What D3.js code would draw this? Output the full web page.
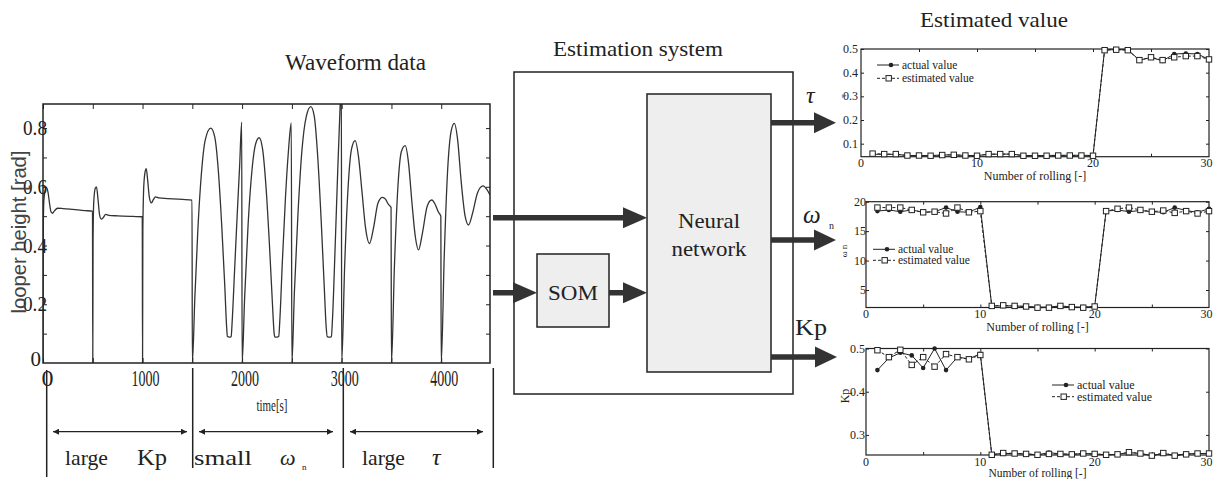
<!DOCTYPE html>
<html><head><meta charset="utf-8">
<script src="https://cdn.jsdelivr.net/npm/d3@7"></script>
<style>
body{margin:0;background:#fff}
svg{display:block}
text{font-family:"Liberation Serif","Times New Roman",serif;fill:#222}
</style>
</head><body>
<svg id="c" width="1213" height="479"></svg>
<script>
// ---------------- DATA ----------------
// waveform: [time s, looper height rad]
const waveform = [
 [0,0],[2,0.42],[8,0.55],[20,0.585],[35,0.597],[50,0.582],[65,0.545],[80,0.515],[95,0.51],[115,0.518],[145,0.527],[200,0.526],[300,0.523],[420,0.519],[497,0.517],
 [500,0],[503,0.42],[510,0.55],[525,0.595],[537,0.6],[552,0.56],[568,0.505],[585,0.49],[605,0.495],[630,0.506],[660,0.503],[750,0.501],[900,0.499],[997,0.498],
 [1000,0],[1003,0.45],[1012,0.6],[1025,0.65],[1037,0.662],[1052,0.62],[1068,0.565],[1088,0.545],[1108,0.556],[1130,0.566],[1165,0.562],[1250,0.56],[1400,0.557],[1497,0.555],
 [1500,0],[1525,0.22],[1555,0.45],[1590,0.64],[1630,0.76],[1685,0.8],[1725,0.77],[1760,0.66],[1795,0.47],[1825,0.27],[1845,0.12],[1852,0.09],[1870,0.088],[1890,0.09],[1900,0.14],[1925,0.32],[1950,0.5],[1975,0.67],[1996,0.82],
 [2000,0],[2025,0.22],[2060,0.47],[2100,0.66],[2135,0.745],[2171,0.767],[2205,0.73],[2240,0.6],[2275,0.4],[2305,0.2],[2322,0.1],[2330,0.088],[2350,0.088],[2368,0.09],[2378,0.14],[2405,0.35],[2435,0.56],[2465,0.72],[2494,0.818],
 [2500,0],[2525,0.24],[2560,0.5],[2600,0.72],[2645,0.84],[2690,0.873],[2725,0.84],[2760,0.7],[2795,0.48],[2825,0.26],[2845,0.12],[2855,0.09],[2877,0.088],[2897,0.09],[2908,0.15],[2935,0.4],[2960,0.65],[2985,0.88],[2997,0.98],
 [3000,0],[3030,0.33],[3065,0.6],[3100,0.73],[3136,0.757],[3170,0.7],[3205,0.58],[3240,0.46],[3279,0.407],[3320,0.46],[3365,0.545],[3410,0.564],[3440,0.558],[3470,0.54],[3496,0.53],
 [3500,0],[3530,0.33],[3565,0.6],[3600,0.72],[3638,0.74],[3672,0.68],[3705,0.55],[3740,0.43],[3772,0.385],[3810,0.44],[3860,0.535],[3905,0.555],[3940,0.54],[3970,0.515],[3996,0.5],
 [4000,0],[4030,0.36],[4065,0.66],[4100,0.79],[4131,0.816],[4165,0.76],[4200,0.62],[4240,0.5],[4274,0.47],[4315,0.51],[4365,0.58],[4420,0.603],[4460,0.59],[4490,0.572]
];
const waveXTicks = [0,500,1000,1500,2000,2500,3000,3500,4000];
const waveXLabels = [0,1000,2000,3000,4000];
const waveYTicks = [0.1,0.2,0.3,0.4,0.5,0.6,0.7,0.8];
const waveYLabels = [0,0.2,0.4,0.6,0.8];

const rolling = [1,2,3,4,5,6,7,8,9,10,11,12,13,14,15,16,17,18,19,20,21,22,23,24,25,26,27,28,29,30];
const tauActual = [0.055,0.055,0.055,0.05,0.05,0.05,0.052,0.053,0.05,0.05,0.055,0.056,0.056,0.05,0.05,0.05,0.051,0.051,0.051,0.05,
                   0.497,0.497,0.497,0.453,0.464,0.45,0.479,0.481,0.479,0.456];
const tauEstimated = [0.058,0.056,0.056,0.05,0.05,0.049,0.052,0.053,0.05,0.049,0.056,0.056,0.056,0.049,0.049,0.049,0.05,0.05,0.05,0.049,
                   0.495,0.497,0.495,0.453,0.465,0.453,0.465,0.47,0.47,0.456];
const omegaActual = [18.4,18.6,18.3,18.6,18.2,18.3,19.0,18.3,18.2,19.1, 2.3,2.3,2.3,2.2,2.1,2.1,2.3,2.1,2.1,2.2,
                   18.4,18.6,18.3,18.5,18.3,18.2,19.0,18.5,18.2,18.8];
const omegaEstimated = [19.0,19.0,19.0,18.6,18.2,18.3,18.0,19.0,18.2,18.4, 2.3,2.4,2.3,2.2,2.0,2.0,2.3,2.1,2.0,2.2,
                   18.4,18.8,19.0,18.6,18.3,18.5,18.1,18.4,18.0,18.4];
const kpActual = [0.45,0.478,0.49,0.484,0.455,0.5,0.45,0.48,0.476,0.488, 0.255,0.257,0.257,0.256,0.254,0.259,0.256,0.255,0.257,0.256,
                  0.254,0.255,0.259,0.257,0.252,0.257,0.253,0.256,0.257,0.257];
const kpEstimated = [0.496,0.48,0.497,0.462,0.48,0.458,0.487,0.48,0.475,0.485, 0.254,0.258,0.257,0.256,0.254,0.256,0.256,0.255,0.257,0.256,
                  0.254,0.255,0.26,0.257,0.252,0.258,0.252,0.255,0.257,0.257];
const rollTicks = [5,10,15,20,25];
const rollLabels = [0,10,20,30];
const tauYTicks = [0.1,0.2,0.3,0.4,0.5];
const omegaYTicks = [5,10,15,20];
const kpYTicks = [0.3,0.4,0.5];
const legendLabels = ["actual value","estimated value"];

// ---------------- DRAW ----------------
const svg = d3.select("#c");
const ink = "#222";
const defs = svg.append("defs");
defs.append("marker").attr("id","ah").attr("viewBox","0 0 10 10").attr("refX",10).attr("refY",5)
  .attr("markerUnits","userSpaceOnUse").attr("markerWidth",9).attr("markerHeight",6).attr("orient","auto-start-reverse")
  .append("path").attr("d","M0,0L10,5L0,10z").attr("fill",ink);

function txt(x,y,s,o={}){
  const t = svg.append("text").attr("x",x).attr("y",y).text(s)
    .attr("font-size",o.size||16).attr("text-anchor",o.anchor||"start");
  if(o.len){t.attr("textLength",o.len).attr("lengthAdjust","spacingAndGlyphs");}
  if(o.italic) t.attr("font-style","italic");
  if(o.family) t.style("font-family",o.family);
  if(o.fill) t.style("fill",o.fill);
  if(o.rotate) t.attr("transform",`rotate(${o.rotate},${x},${y})`);
  return t;
}
function cleanAxis(g){g.select(".domain").remove(); g.selectAll("line").attr("stroke",ink).attr("stroke-width",1);}

// ---- Waveform chart
const wx = d3.scaleLinear().domain([0,4490]).range([43,490]);
const wy = d3.scaleLinear().domain([0,0.882]).range([363,104]);
defs.append("clipPath").attr("id","wclip").append("rect").attr("x",43).attr("y",104).attr("width",447).attr("height",259);
svg.append("path").datum(waveform).attr("clip-path","url(#wclip)").attr("fill","none")
  .attr("stroke","#333").attr("stroke-width",1.3)
  .attr("d",d3.line().x(d=>wx(d[0])).y(d=>wy(d[1])).curve(d3.curveMonotoneX));
svg.append("g").attr("transform","translate(0,363)").call(d3.axisBottom(wx).tickValues(waveXTicks).tickSize(-5).tickFormat("")).call(cleanAxis);
svg.append("g").attr("transform","translate(0,104)").call(d3.axisTop(wx).tickValues(waveXTicks).tickSize(-5).tickFormat("")).call(cleanAxis);
svg.append("g").attr("transform","translate(43,0)").call(d3.axisLeft(wy).tickValues(waveYTicks).tickSize(-4).tickFormat("")).call(cleanAxis);
svg.append("g").attr("transform","translate(490,0)").call(d3.axisRight(wy).tickValues(waveYTicks).tickSize(-4).tickFormat("")).call(cleanAxis);
svg.append("rect").attr("x",43).attr("y",104).attr("width",447).attr("height",259)
  .attr("fill","none").attr("stroke",ink).attr("stroke-width",1.5);
waveYLabels.forEach(v=>{
  const s = v===0?"0":d3.format(".1f")(v);
  txt(v===0?41:47, v===0?wy(v)+3:wy(v)+7, s, {size:21, anchor:"end", len: v===0?null:24});
});
waveXLabels.forEach(v=>{
  txt(v===0?47.5:wx(v)+3, 386, String(v), {size:24, anchor:"middle", len: v===0?null:28});
});
txt(272,411,"time[s]",{size:17,anchor:"middle",len:31});
txt(26,232,"looper height [rad]",{size:20,anchor:"middle",rotate:-90,family:"Liberation Sans",fill:"#444",len:163});
txt(285,70,"Waveform data",{size:23,len:141});

// separators & range arrows
[[46.7,370,477],[192.7,368,468],[343.3,368,468],[493.3,368,468]].forEach(d=>{
  svg.append("line").attr("x1",d[0]).attr("x2",d[0]).attr("y1",d[1]).attr("y2",d[2]).attr("stroke",ink).attr("stroke-width",1.5);
});
[[53,187],[199,333],[350,483]].forEach(d=>{
  svg.append("line").attr("x1",d[0]).attr("x2",d[1]).attr("y1",431.7).attr("y2",431.7).attr("stroke",ink).attr("stroke-width",1.3)
   .attr("marker-start","url(#ah)").attr("marker-end","url(#ah)");
});
txt(65,465,"large",{size:22,len:43});
txt(137,465,"Kp",{size:24,len:30});
txt(194,465,"small",{size:22,len:58});
txt(280,465,"ω",{size:22,italic:true});
txt(302,470,"n",{size:9});
txt(362,465,"large",{size:22,len:43});
txt(432,465,"τ",{size:24,italic:true});

// ---- Estimation system
txt(553,56,"Estimation system",{size:22,len:170});
svg.append("rect").attr("x",514).attr("y",72).attr("width",279).attr("height",322).attr("fill","none").attr("stroke",ink).attr("stroke-width",1.5);
svg.append("rect").attr("x",647).attr("y",94).attr("width",124).attr("height",278).attr("fill","#eeeeee").attr("stroke",ink).attr("stroke-width",1.5);
svg.append("rect").attr("x",537).attr("y",254).attr("width",72).attr("height",73).attr("fill","#eeeeee").attr("stroke",ink).attr("stroke-width",1.5);
txt(709,228,"Neural",{size:22,anchor:"middle",len:62});
txt(709,256,"network",{size:22,anchor:"middle",len:75});
txt(573,300,"SOM",{size:21,anchor:"middle",len:50});

function bigArrow(x0,x1,y,hl,hh,sh){
  const xh=x1-hl;
  svg.append("path").attr("d",`M${x0},${y-sh}L${xh},${y-sh}L${xh},${y-hh}L${x1},${y}L${xh},${y+hh}L${xh},${y+sh}L${x0},${y+sh}Z`)
   .attr("fill","#333");
}
bigArrow(493,647,217.7,24,10.5,2.8);
bigArrow(493,537,292.7,24,10.5,2.8);
bigArrow(609,647,292.7,24,10.5,2.8);
bigArrow(771,836,122.7,22,10.5,2.8);
bigArrow(771,836,240,22,10.5,2.8);
bigArrow(771,837,357,22,10.5,2.8);
txt(806,103,"τ",{size:24,italic:true});
txt(803,223,"ω",{size:25,italic:true});
txt(829,229,"n",{size:10});
txt(795,335,"Kp",{size:23,len:32});

// ---- Estimated value charts
txt(920,27,"Estimated value",{size:21,len:148});

function smallChart(o){
  const x = d3.scaleLinear().domain([0,30]).range([o.l,o.r]);
  const y = d3.scaleLinear().domain(o.yd).range([o.b,o.t]);
  svg.append("g").attr("transform",`translate(0,${o.b})`).call(d3.axisBottom(x).tickValues(rollTicks).tickSize(-3).tickFormat("")).call(cleanAxis);
  svg.append("g").attr("transform",`translate(0,${o.t})`).call(d3.axisTop(x).tickValues(rollTicks).tickSize(-3).tickFormat("")).call(cleanAxis);
  svg.append("g").attr("transform",`translate(${o.l},0)`).call(d3.axisLeft(y).tickValues(o.yt).tickSize(-3).tickFormat("")).call(cleanAxis);
  svg.append("g").attr("transform",`translate(${o.r},0)`).call(d3.axisRight(y).tickValues(o.yt).tickSize(-3).tickFormat("")).call(cleanAxis);
  svg.append("rect").attr("x",o.l).attr("y",o.t).attr("width",o.r-o.l).attr("height",o.b-o.t)
    .attr("fill","none").attr("stroke",ink).attr("stroke-width",1.2);
  const line = d3.line().x((d,i)=>x(rolling[i])).y(d=>y(d));
  svg.append("path").datum(o.act).attr("fill","none").attr("stroke",ink).attr("stroke-width",1).attr("d",line);
  svg.append("path").datum(o.est).attr("fill","none").attr("stroke",ink).attr("stroke-width",1).attr("stroke-dasharray","3,2").attr("d",line);
  svg.append("g").selectAll("circle").data(o.act).join("circle")
    .attr("cx",(d,i)=>x(rolling[i])).attr("cy",d=>y(d)).attr("r",2.3).attr("fill",ink);
  svg.append("g").selectAll("rect").data(o.est).join("rect")
    .attr("x",(d,i)=>x(rolling[i])-2.7).attr("y",d=>y(d)-2.7).attr("width",5.4).attr("height",5.4)
    .attr("fill","#fff").attr("stroke",ink).attr("stroke-width",1);
  rollLabels.forEach(v=>{
    if(v===30) txt(1212.5,o.b+10.5,String(v),{size:12,anchor:"end"});
    else txt(x(v),o.b+10.5,String(v),{size:12,anchor:"middle"});
  });
  o.yt.forEach(v=>txt(o.l-o.yp,y(v)+4,o.fmt(v),{size:12,anchor:"end"}));
  txt((o.l+o.r)/2,Math.min(o.b+23,476.5),"Number of rolling [-]",{size:o.xtsize||12,anchor:"middle"});
  txt(o.ylx,o.yly,o.ylabel,{size:o.ylsize,anchor:"middle",rotate:-90});
  // legend
  const L=o.leg;
  svg.append("line").attr("x1",L.x).attr("x2",L.x+22).attr("y1",L.y).attr("y2",L.y).attr("stroke",ink).attr("stroke-width",1);
  svg.append("circle").attr("cx",L.x+14).attr("cy",L.y).attr("r",2.3).attr("fill",ink);
  svg.append("line").attr("x1",L.x).attr("x2",L.x+22).attr("y1",L.y+L.dy).attr("y2",L.y+L.dy).attr("stroke",ink).attr("stroke-dasharray","3,2");
  svg.append("rect").attr("x",L.x+9).attr("y",L.y+L.dy-2.7).attr("width",5.4).attr("height",5.4).attr("fill","#fff").attr("stroke",ink);
  txt(L.x+25,L.y+4,legendLabels[0],{size:L.size});
  txt(L.x+25,L.y+L.dy+4,legendLabels[1],{size:L.size});
}
smallChart({l:861,r:1209,t:49,b:156.7,yd:[0.045,0.5],yt:tauYTicks,yp:3,fmt:d3.format(".1f"),
  act:tauActual,est:tauEstimated,ylabel:"τ",ylx:846,yly:96,ylsize:9,
  leg:{x:877,y:65,dy:13.3,size:11.5}});
smallChart({l:866,r:1209,t:201.7,b:307.5,yd:[2.03,20],yt:omegaYTicks,yp:0,fmt:d3.format("d"),
  act:omegaActual,est:omegaEstimated,ylabel:"ω n",ylx:847,yly:251,ylsize:9,
  leg:{x:873,y:249.3,dy:11,size:11.5}});
smallChart({l:866,r:1209,t:348.5,b:455,yd:[0.2535,0.5],yt:kpYTicks,yp:1,fmt:d3.format(".1f"),
  act:kpActual,est:kpEstimated,ylabel:"Kp",ylx:849,yly:396,ylsize:12,xtsize:11.5,
  leg:{x:1052,y:385,dy:11.7,size:12}});
</script>
</body></html>
